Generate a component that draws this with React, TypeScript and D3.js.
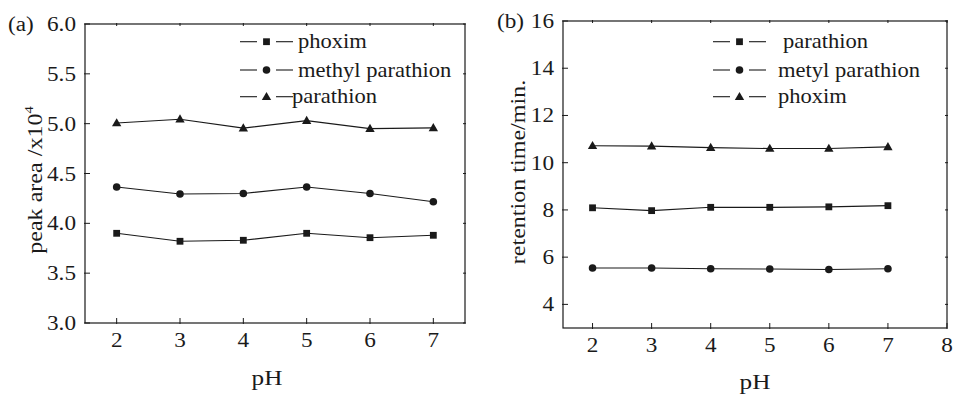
import React, { useEffect, useRef } from 'react';
import * as d3 from 'd3';

// pH values shared by both panels
const phValues = [2, 3, 4, 5, 6, 7];

// panel (a): peak area /x10^4
const areaPhoxim = [3.9, 3.82, 3.83, 3.9, 3.856, 3.88];
const areaMethylParathion = [4.364, 4.294, 4.3, 4.364, 4.3, 4.217];
const areaParathion = [5.006, 5.045, 4.955, 5.03, 4.95, 4.958];
const areaTicks = [3.0, 3.5, 4.0, 4.5, 5.0, 5.5, 6.0];
const areaXTicks = [2, 3, 4, 5, 6, 7];

// panel (b): retention time/min.
const rtParathion = [8.09, 7.97, 8.11, 8.11, 8.13, 8.18];
const rtMetylParathion = [5.54, 5.54, 5.51, 5.5, 5.48, 5.51];
const rtPhoxim = [10.72, 10.7, 10.64, 10.6, 10.6, 10.67];
const rtTicks = [4, 6, 8, 10, 12, 14, 16];
const rtXTicks = [2, 3, 4, 5, 6, 7, 8];

const INK = '#1a1a1a';
const FONT = '"Liberation Serif", serif';

type Series = { name: string; values: number[]; marker: 'square' | 'circle' | 'triangle' };

type PanelCfg = {
  tag: string;
  tagX: number;
  left: number;
  top: number;
  right: number;
  bottom: number;
  xDomain: [number, number];
  yDomain: [number, number];
  yTicks: number[];
  xTicks: number[];
  yFormat: (v: number) => string;
  series: Series[];
  legendX: number;
  legendTextX: number[];
  legendY: number[];
  yLabelX: number;
  yLabelY: number;
  xLabelX: number;
  xLabelY: number;
  yLabel: string;
  sup?: string;
};

const panels: PanelCfg[] = [
  {
    tag: '(a)', tagX: 8,
    left: 85, top: 24, right: 465, bottom: 323,
    xDomain: [1.5, 7.5], yDomain: [3, 6],
    yTicks: areaTicks, xTicks: areaXTicks,
    yFormat: d3.format('.1f'),
    series: [
      { name: 'phoxim', values: areaPhoxim, marker: 'square' },
      { name: 'methyl parathion', values: areaMethylParathion, marker: 'circle' },
      { name: 'parathion', values: areaParathion, marker: 'triangle' },
    ],
    legendX: 240,
    legendTextX: [298, 298, 292],
    legendY: [41.7, 70, 96.7],
    yLabelX: 42,
    yLabelY: 180,
    xLabelX: 267,
    xLabelY: 385,
    yLabel: 'peak area /x10',
    sup: '4',
  },
  {
    tag: '(b)', tagX: 497,
    left: 563, top: 21, right: 947, bottom: 328,
    xDomain: [1.5, 8], yDomain: [3, 16],
    yTicks: rtTicks, xTicks: rtXTicks,
    yFormat: d3.format('d'),
    series: [
      { name: 'parathion', values: rtParathion, marker: 'square' },
      { name: 'metyl parathion', values: rtMetylParathion, marker: 'circle' },
      { name: 'phoxim', values: rtPhoxim, marker: 'triangle' },
    ],
    legendX: 713,
    legendTextX: [783, 778, 778],
    legendY: [41.7, 70, 96.7],
    yLabelX: 525,
    yLabelY: 172,
    xLabelX: 755,
    xLabelY: 389,
    yLabel: 'retention time/min.',
  },
];

type G = d3.Selection<SVGGElement, unknown, null, undefined>;

// text with a slight horizontal stretch, like the wide serif of the original
const label = (g: G, x: number, y: number, str: string, size: number, sx: number, anchor = 'start', rot = 0) =>
  g.append('text')
    .attr('transform', `translate(${x},${y}) rotate(${rot}) scale(${sx},1)`)
    .attr('text-anchor', anchor)
    .attr('font-family', FONT)
    .attr('font-size', size)
    .attr('fill', INK)
    .text(str);

const drawMarker = (g: G, kind: string, x: number, y: number) => {
  if (kind === 'square') {
    g.append('rect').attr('x', x - 3.4).attr('y', y - 3.4).attr('width', 6.8).attr('height', 6.8).attr('fill', INK);
  } else if (kind === 'circle') {
    g.append('circle').attr('cx', x).attr('cy', y).attr('r', 3.8).attr('fill', INK);
  } else {
    g.append('path')
      .attr('d', d3.symbol(d3.symbolTriangle, 38)())
      .attr('transform', `translate(${x},${y + 0.6})`)
      .attr('fill', INK);
  }
};

const App = () => {
  const ref = useRef<SVGSVGElement>(null);

  useEffect(() => {
    const svg = d3.select(ref.current);
    svg.selectAll('*').remove();

    panels.forEach((p) => {
      const g = svg.append('g') as unknown as G;
      const x = d3.scaleLinear().domain(p.xDomain).range([p.left, p.right]);
      const y = d3.scaleLinear().domain(p.yDomain).range([p.bottom, p.top]);

      // frame
      g.append('rect')
        .attr('x', p.left).attr('y', p.top)
        .attr('width', p.right - p.left).attr('height', p.bottom - p.top)
        .attr('fill', 'none').attr('stroke', INK).attr('stroke-width', 1.2);

      // ticks crossing the frame
      p.xTicks.forEach((t) => {
        g.append('line').attr('x1', x(t)).attr('x2', x(t)).attr('y1', p.bottom - 5).attr('y2', p.bottom + 1)
          .attr('stroke', INK).attr('stroke-width', 1);
        g.append('line').attr('x1', x(t)).attr('x2', x(t)).attr('y1', p.top - 1).attr('y2', p.top + 2)
          .attr('stroke', INK).attr('stroke-width', 1);
        label(g, x(t), p.bottom + 24, String(t), 20, 1.16, 'middle');
      });
      p.yTicks.forEach((t) => {
        g.append('line').attr('x1', p.left - 1).attr('x2', p.left + 5).attr('y1', y(t)).attr('y2', y(t))
          .attr('stroke', INK).attr('stroke-width', 1);
        g.append('line').attr('x1', p.right - 2).attr('x2', p.right + 1).attr('y1', y(t)).attr('y2', y(t))
          .attr('stroke', INK).attr('stroke-width', 1);
        label(g, p.left - 9, y(t) + 7, p.yFormat(t), 20, 1.16, 'end');
      });

      // panel tag
      label(g, p.tagX, p.top + 7, p.tag, 20, 1.16);

      // axis titles
      label(g, p.xLabelX, p.xLabelY, 'pH', 21, 1.2, 'middle');
      const yl = label(g, p.yLabelX, p.yLabelY, p.yLabel, 21.5, 1.12, 'middle', -90);
      if (p.sup) yl.append('tspan').attr('dy', -9).attr('font-size', 13).text(p.sup);

      // series
      const line = d3.line<number>().x((_, i) => x(phValues[i])).y((d) => y(d));
      p.series.forEach((s, si) => {
        g.append('path').attr('d', line(s.values)).attr('fill', 'none').attr('stroke', INK).attr('stroke-width', 1.1);
        s.values.forEach((v, i) => drawMarker(g, s.marker, x(phValues[i]), y(v)));

        // legend entry
        const ly = p.legendY[si];
        g.append('line').attr('x1', p.legendX).attr('x2', p.legendX + 17).attr('y1', ly).attr('y2', ly)
          .attr('stroke', INK).attr('stroke-width', 1.1);
        g.append('line').attr('x1', p.legendX + 36).attr('x2', p.legendX + 53).attr('y1', ly).attr('y2', ly)
          .attr('stroke', INK).attr('stroke-width', 1.1);
        drawMarker(g, s.marker, p.legendX + 26.5, ly);
        label(g, p.legendTextX[si], ly + 6.5, s.name, 20.5, 1.1);
      });
    });
  }, []);

  return (
    <svg
      ref={ref}
      width={955}
      height={395}
      style={{ position: 'absolute', left: 0, top: 0, background: '#fff' }}
    />
  );
};

export default App;
